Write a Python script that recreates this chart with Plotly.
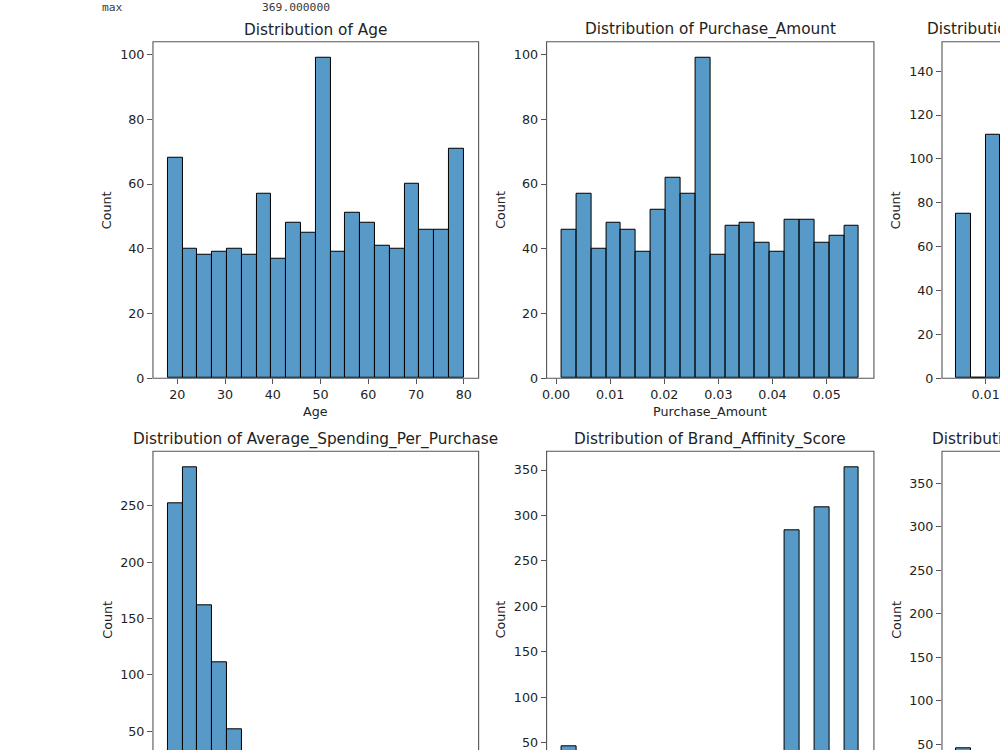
import plotly.graph_objects as go

# counts (20 bins each)
age_counts = [68, 40, 38, 39, 40, 38, 57, 37, 48, 45, 99, 39, 51, 48, 41, 40, 60, 46, 46, 71]
age_range = (18, 80)

purchase_counts = [46, 57, 40, 48, 46, 39, 52, 62, 57, 99, 38, 47, 48, 42, 39, 49, 49, 42, 44, 47]
purchase_range = (0.001, 0.056)

# third column is cut off by the screenshot, only the first bins show
freq_counts = [75, 0, 111]
freq_start, freq_bin = 0.005, 0.0025

avg_spend_counts = [252, 284, 162, 111, 52]
brand_counts = [46, 0, 0, 0, 0, 0, 0, 0, 0, 0, 0, 0, 0, 0, 0, 284, 0, 309, 0, 353]
last_counts = [45]

titles = ["Distribution of Age", "Distribution of Purchase_Amount",
          "Distribution of Frequency_of_Purchase",
          "Distribution of Average_Spending_Per_Purchase",
          "Distribution of Brand_Affinity_Score",
          "Distribution of Customer_Satisfaction"]

W, H = 1000, 750      # layout is worked out on a 1000x750 grid
FIG_H = 758           # the captured page comes out slightly squeezed vertically
BAR = "rgba(31,119,180,0.75)"
TXT = "#222222"
SPINE = "#555555"
FONT = "DejaVu Sans"

# panel boxes in pixels (left, right, top, bottom)
cols = [(148.7, 476.0), (544.3, 873.3), (941.7, 1270.0)]
rows = [(41.7, 377.7), (450.7, 786.7)]


def px2x(p):
    return p / W


def px2y(p):
    return 1 - p / H


def bins(start, width, n):
    return [start + width * (i + 0.5) for i in range(n)]


fig = go.Figure()

panels = []
age_w = (age_range[1] - age_range[0]) / 20
pur_w = (purchase_range[1] - purchase_range[0]) / 20
panels.append(dict(x=bins(age_range[0], age_w, 20), y=age_counts, w=age_w,
                   xr=[age_range[0] - age_w, age_range[1] + age_w], yr=[0, max(age_counts) * 1.05],
                   xt=dict(tickvals=[20, 30, 40, 50, 60, 70, 80]), dy=20, xlabel="Age"))
panels.append(dict(x=bins(purchase_range[0], pur_w, 20), y=purchase_counts, w=pur_w,
                   xr=[purchase_range[0] - pur_w, purchase_range[1] + pur_w], yr=[0, max(purchase_counts) * 1.05],
                   xt=dict(tickvals=[0, 0.01, 0.02, 0.03, 0.04, 0.05], tickformat=".2f"), dy=20,
                   xlabel="Purchase_Amount"))
panels.append(dict(x=bins(freq_start, freq_bin, len(freq_counts)), y=freq_counts, w=freq_bin,
                   xr=[0.00258, 0.01245], yr=[0, 153.4],
                   xt=dict(tickvals=[0.01], tickformat=".2f"), dy=20, xlabel=None))
panels.append(dict(x=bins(0, 1, len(avg_spend_counts)), y=avg_spend_counts, w=1,
                   xr=[-1, 21], yr=[32.5, 298.2], xt=None, dy=50, xlabel=None))
panels.append(dict(x=bins(0, 1, len(brand_counts)), y=brand_counts, w=1,
                   xr=[-1, 21], yr=[40.8, 370.6], xt=None, dy=50, xlabel=None))
panels.append(dict(x=bins(0, 1, len(last_counts)), y=last_counts, w=1,
                   xr=[-0.966, 2.95], yr=[42.3, 386.7], xt=None, dy=50, xlabel=None))

annotations = []
shapes = []
tickfont = dict(family=FONT, size=12.7, color=TXT)

for i, p in enumerate(panels):
    r, c = divmod(i, 3)
    l, rt = cols[c]
    t, b = rows[r]
    n = "" if i == 0 else str(i + 1)
    fig.add_trace(go.Bar(x=p["x"], y=p["y"], width=p["w"], xaxis="x" + n, yaxis="y" + n,
                         marker=dict(color=BAR, line=dict(color="black", width=1)),
                         showlegend=False, hoverinfo="skip"))

    xa = dict(domain=[px2x(l), min(px2x(rt), 1.0)], range=p["xr"], anchor="y" + n,
              showgrid=False, zeroline=False, showline=False, tickfont=tickfont)
    if p["xt"]:
        xa.update(p["xt"], ticks="outside", ticklen=5, tickcolor=SPINE, tickwidth=1)
    else:
        xa.update(showticklabels=False, ticks="")
    ya = dict(domain=[max(px2y(b), 0.0), px2y(t)], range=p["yr"], anchor="x" + n,
              showgrid=False, zeroline=False, showline=False, dtick=p["dy"],
              ticks="outside", ticklen=5, tickcolor=SPINE, tickwidth=1, tickfont=tickfont)
    fig.layout["xaxis" + n] = xa
    fig.layout["yaxis" + n] = ya

    # frame (spines), may run past the page edge like the cropped original
    shapes.append(dict(type="rect", xref="paper", yref="paper", layer="above",
                       x0=px2x(l), x1=px2x(rt), y0=px2y(b), y1=px2y(t),
                       line=dict(color=SPINE, width=1.1)))

    # title
    tx = (l + rt) / 2
    ty = t - 12
    if c == 2:
        annotations.append(dict(text=titles[i], x=px2x(925 if r == 0 else 930), y=px2y(ty),
                                xref="paper", yref="paper", xanchor="left", yanchor="middle",
                                showarrow=False, font=dict(family=FONT, size=15.3, color=TXT)))
    else:
        annotations.append(dict(text=titles[i], x=px2x(tx), y=px2y(ty), xref="paper", yref="paper",
                                xanchor="center", yanchor="middle", showarrow=False,
                                font=dict(family=FONT, size=15.3, color=TXT)))
    # y label
    annotations.append(dict(text="Count", x=px2x(l - 46), y=px2y((t + b) / 2), xref="paper", yref="paper",
                            textangle=-90, xanchor="center", yanchor="middle", showarrow=False,
                            font=dict(family=FONT, size=12.7, color=TXT)))
    if p["xlabel"]:
        annotations.append(dict(text=p["xlabel"], x=px2x(tx), y=px2y(b + 33), xref="paper", yref="paper",
                                xanchor="center", yanchor="middle", showarrow=False,
                                font=dict(family=FONT, size=12.7, color=TXT)))

# leftover of the describe() printout above the figure
mono = dict(family="DejaVu Sans Mono", size=11.3, color="#3a3a3a")
annotations.append(dict(text="max", x=px2x(95), y=px2y(7), xref="paper", yref="paper",
                        xanchor="left", yanchor="middle", showarrow=False, font=mono))
annotations.append(dict(text="369.000000", x=px2x(256.7), y=px2y(7), xref="paper", yref="paper",
                        xanchor="left", yanchor="middle", showarrow=False, font=mono))

fig.update_layout(width=W, height=FIG_H, margin=dict(l=0, r=0, t=0, b=0),
                  paper_bgcolor="white", plot_bgcolor="white", bargap=0,
                  annotations=annotations, shapes=shapes,
                  font=dict(family=FONT, color=TXT))

# strip the default page margin so the figure sits at the top left corner
page_css = ("var s='margin:0;padding:0;overflow:hidden;';"
            "document.documentElement.style.cssText=s;document.body.style.cssText=s;")
fig.write_html("out.html", config={"displayModeBar": False}, post_script=page_css)
